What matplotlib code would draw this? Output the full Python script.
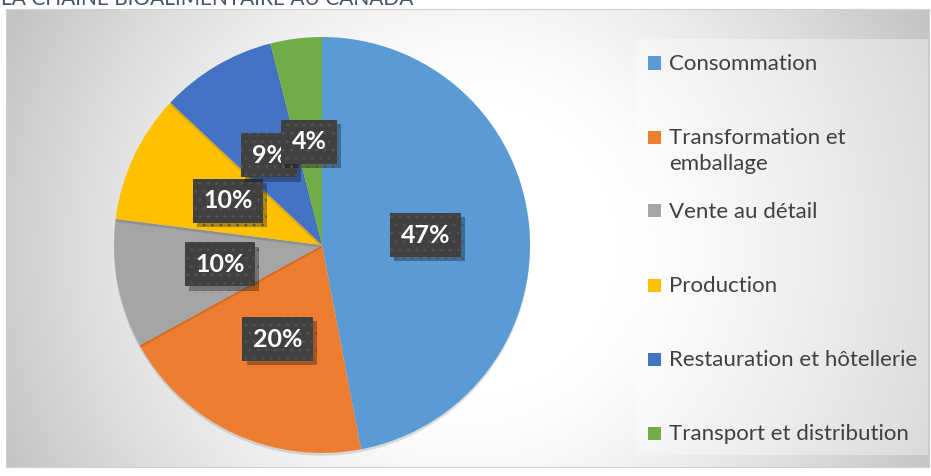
import numpy as np
import matplotlib
matplotlib.use("Agg")
import matplotlib.pyplot as plt
import matplotlib.patheffects as pe
from matplotlib.patches import Rectangle

plt.rcParams['font.family'] = ['Lato', 'DejaVu Sans']
plt.rcParams['hatch.linewidth'] = 0.8

title = "LA CHAÎNE BIOALIMENTAIRE AU CANADA"
labels = ["Consommation", "Transformation et\nemballage", "Vente au détail",
          "Production", "Restauration et hôtellerie", "Transport et distribution"]
values = [47, 20, 10, 10, 9, 4]
colors = ["#5B9BD5", "#ED7D31", "#A5A5A5", "#FFC000", "#4472C4", "#70AD47"]

W, H = 931, 476
fig = plt.figure(figsize=(W / 100, H / 100), dpi=100, facecolor="white")

def fx(px):
    return px / W

def fy(py):
    return 1 - py / H

# chart area background with radial gradient
x0, x1, y0, y1 = 6, 929, 9, 467
bg = fig.add_axes([fx(x0), fy(y1), fx(x1 - x0), (y1 - y0) / H], zorder=0)
xx, yy = np.meshgrid(np.arange(x0, x1), np.arange(y0, y1))
d = np.hypot(xx - 470, yy - 250)
t = np.clip((d - 150) / 365, 0, 1) ** 1.3
g = 1 - t * 60 / 255
img = np.dstack([g, g, g])
bg.imshow(img, aspect="auto", extent=[0, 1, 0, 1], origin="upper")
bg.set_xlim(0, 1)
bg.set_ylim(0, 1)
bg.set_xticks([])
bg.set_yticks([])
for s in bg.spines.values():
    s.set_color("#d0d0d0")
    s.set_linewidth(0.8)

# legend box (semi transparent white)
fig.patches.append(Rectangle((fx(636), fy(455)), fx(928 - 636), (455 - 39) / H,
                             transform=fig.transFigure, facecolor="white",
                             alpha=0.35, edgecolor="none", zorder=1))

# title, cut off at the top like in the source
fig.text(fx(1), fy(5), title, fontsize=15, color="#44546A", va="baseline",
         ha="left", zorder=5)

# pie
cx, cy, r = 322, 245, 208
ax = fig.add_axes([fx(cx - r), fy(cy + r), fx(2 * r), 2 * r / H], zorder=2)
ax.set_aspect("equal")
wedges, texts, autotexts = ax.pie(values, colors=colors, startangle=90,
                                  counterclock=False, radius=1,
                                  autopct="%1.0f%%", pctdistance=0.5,
                                  wedgeprops=dict(linewidth=0))
for w in wedges:
    w.set_path_effects([pe.SimplePatchShadow(offset=(0, -2), alpha=0.12,
                                             shadow_rgbFace="black"),
                        pe.Normal()])
for at in autotexts:
    at.set_color("white")
    at.set_fontsize(18)
    at.set_fontweight("bold")
    at.set_bbox(dict(boxstyle="square,pad=0.42", facecolor="#404040",
                     edgecolor="#535353", linewidth=0, hatch=".."))
    at.get_bbox_patch().set_path_effects([
        pe.SimplePatchShadow(offset=(3, -3), alpha=0.3, shadow_rgbFace="black"),
        pe.Normal()])
ax.set_xlim(-1, 1)
ax.set_ylim(-1, 1)
ax.axis("off")

# legend drawn by hand to match Excel's layout
row_top = 63
row_step = 74
line_h = 26
for i, (lab, col) in enumerate(zip(labels, colors)):
    yc = row_top + i * row_step
    fig.patches.append(Rectangle((fx(648), fy(yc + 6.5)), fx(13), 13 / H,
                                 transform=fig.transFigure, facecolor=col,
                                 edgecolor="none", zorder=3))
    for j, line in enumerate(lab.split("\n")):
        fig.text(fx(669), fy(yc + 7 + j * line_h), line, fontsize=16,
                 color="#404040", va="baseline", ha="left", zorder=4)

fig.savefig("out.png", dpi=100, facecolor="white")
